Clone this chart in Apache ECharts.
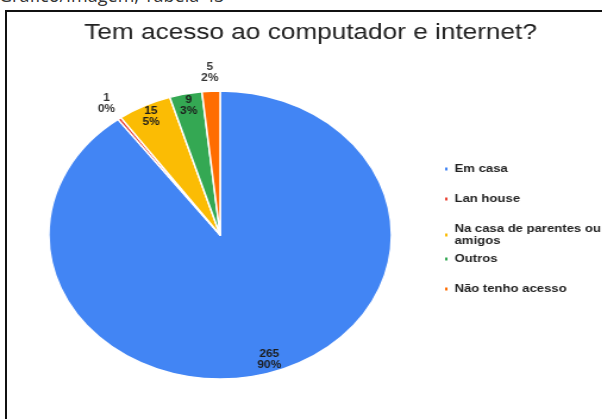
<!DOCTYPE html>
<html>
<head>
<meta charset="utf-8">
<script src="https://cdn.jsdelivr.net/npm/echarts@6/dist/echarts.min.js"></script>
<style>
  html, body { margin: 0; padding: 0; width: 602px; height: 419px; overflow: hidden; background: #fff; }
  #heading { position: absolute; left: -1px; top: -16px; font: 18px/22px "Open Sans", sans-serif; color: #333; white-space: nowrap; }
  #frame { position: absolute; left: 5px; top: 10px; width: 620px; height: 430px; border-left: 2px solid #111; border-top: 2px solid #111; }
  /* the source picture is stretched sideways, so the whole chart is too */
  #chart { position: absolute; left: 0; top: 0; width: 510px; height: 419px; transform: scaleX(1.19); transform-origin: 0 0; }
</style>
</head>
<body>
<div id="heading">Gráfico/Imagem, Tabela 43</div>
<div id="frame"></div>
<div id="chart"></div>
<script>
const title = "Tem acesso ao computador e internet?"
const categories = ["Em casa", "Lan house", "Na casa de parentes ou amigos", "Outros", "Não tenho acesso"]
const counts = [265, 1, 15, 9, 5]

const colors = ["#4285F4", "#EA4335", "#FBBC04", "#34A853", "#FF6D01"]
const total = counts.reduce((a, b) => a + b, 0)
const isSmall = v => v / total < 0.025

const chart = echarts.init(document.getElementById("chart"))

const center = [185, 235]
const labelFont = {fontFamily: "Liberation Sans, Arial", fontWeight: "bold", fontSize: 10, lineHeight: 11}

const pieData = categories.map((name, i) => ({name, value: counts[i]}))

// one legend per entry so each sits on its own fixed slot
const legends = categories.map((name, i) => ({
    data: [name],
    orient: "vertical",
    left: 372,
    top: 163 + i * 30,
    padding: 0,
    itemWidth: 4, itemHeight: 5,
    icon: "rect",
    selectedMode: false,
    textStyle: {
        fontFamily: "Liberation Sans, Arial", fontWeight: "bold", fontSize: 11, lineHeight: 12,
        color: "#222", width: 130, overflow: "break"
    }
}))

const option = {
    animation: false,
    color: colors,
    title: {
        text: title,
        left: 261, top: 22, padding: 0,
        textAlign: "center",
        textStyle: {fontFamily: "Liberation Sans, Arial", fontWeight: "normal", fontSize: 22, color: "#222"}
    },
    legend: legends,
    series: [
        {
            type: "pie",
            center, radius: [0, 144],
            startAngle: 90,
            silent: true,
            label: {show: false}, labelLine: {show: false},
            itemStyle: {borderColor: "#fff", borderWidth: 1.5},
            data: pieData
        },
        {
            // labels for the larger slices, near the rim
            type: "pie",
            center, radius: [113, 144],
            startAngle: 90,
            silent: true,
            percentPrecision: 0,
            itemStyle: {color: "transparent"},
            labelLine: {show: false},
            label: {position: "inside", formatter: "{c}\n{d}%", color: "#1c1c1c", ...labelFont},
            data: pieData.map(d => ({...d, label: {show: !isSmall(d.value)}}))
        },
        {
            // labels for the thin slices, just outside
            type: "pie",
            center, radius: [144, 175],
            startAngle: 90,
            silent: true,
            percentPrecision: 0,
            itemStyle: {color: "transparent"},
            labelLine: {show: false},
            label: {position: "inside", formatter: "{c}\n{d}%", color: "#333", ...labelFont},
            data: pieData.map(d => ({...d, label: {show: isSmall(d.value)}}))
        }
    ]
}

chart.setOption(option)
</script>
</body>
</html>
